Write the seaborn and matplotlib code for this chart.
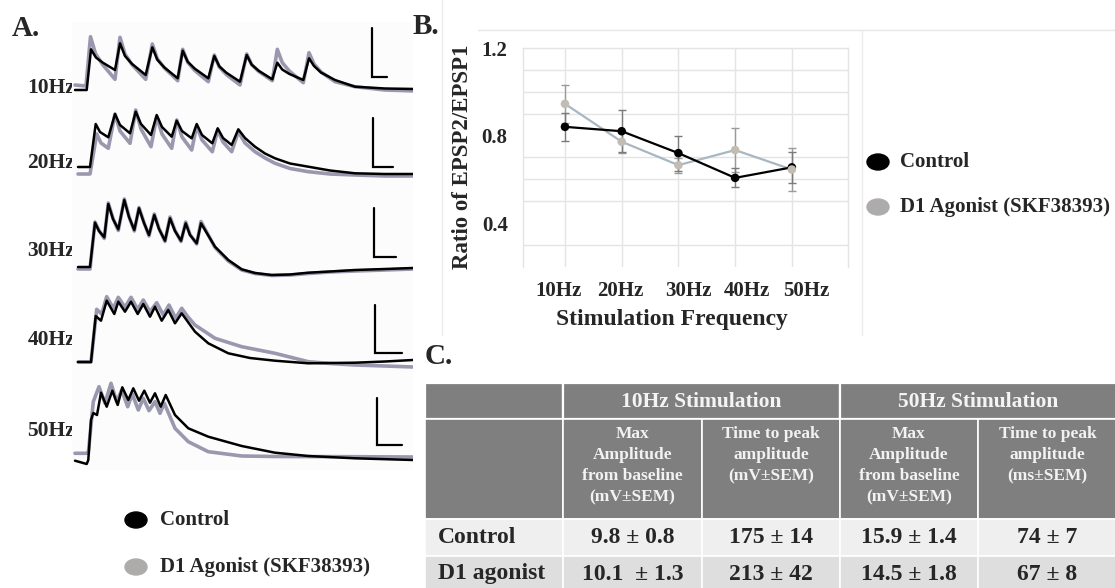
import numpy as np
import pandas as pd
import matplotlib
matplotlib.use("Agg")
import matplotlib.pyplot as plt
import seaborn as sns
from matplotlib.patches import Ellipse, Rectangle

# ------------------------------------------------------------------ DATA
frequencies = ["10Hz", "20Hz", "30Hz", "40Hz", "50Hz"]
group_names = ["Control", "D1 Agonist (SKF38393)"]

ratio_control = [0.84, 0.82, 0.72, 0.607, 0.655]
sem_control = [0.065, 0.095, 0.08, 0.043, 0.07]
ratio_d1 = [0.945, 0.772, 0.665, 0.734, 0.645]
sem_d1 = [0.088, 0.05, 0.035, 0.10, 0.10]

# Panel A traces: time (a.u.) and membrane potential relative to baseline (a.u.)
t10_ctrl = [0, 11.7, 16, 21, 28, 40, 45, 50, 57, 70.7, 77.3, 82.3, 89.3, 102.7, 107.7, 112.7, 119.7, 133.3,
            139.3, 144.3, 151.3, 165, 171.7, 176.7, 183.7, 197.3, 202.3, 207.3, 214.3, 228.3, 234, 239, 246,
            260, 280, 310, 340]
v10_ctrl = [0, 0, 40.7, 32.4, 27.2, 20, 46.7, 34, 26.1, 15, 42.7, 30.3, 22.6, 11.7, 39.3, 28.3, 21.4, 11.7,
            34, 23.7, 17.3, 8.3, 35, 25.3, 19.2, 10.7, 27.3, 20.4, 16.1, 10, 31.7, 24, 17.5, 10, 3.3, 1.5, 1]
t10_d1 = [0, 11, 15.5, 20.5, 27.5, 40, 45, 50, 57, 70.7, 77.3, 82.3, 89.3, 102.7, 107.7, 112.7, 119.7, 133.3,
          139.3, 144.3, 151.3, 165, 171.7, 176.7, 183.7, 197.3, 202.3, 207.3, 214.3, 228.3, 234, 239, 246,
          260, 280, 310, 340]
v10_d1 = [5, 4, 53.3, 36.3, 25.6, 10.7, 52.7, 35.9, 25.4, 10.7, 46, 31.3, 22.1, 9.3, 40.7, 27.7, 19.6, 8.3,
          35, 23, 15.5, 5, 36, 25.3, 18.6, 9.3, 40.7, 27.3, 19, 7.3, 37.3, 26, 18, 8.3, 3.3, 0, -1]

t20_ctrl = [3, 15, 20.7, 25, 33.3, 40, 45, 55, 60.7, 66, 76, 81.7, 87, 96.7, 101.7, 107, 116.7, 121.7, 127,
            137.3, 142.7, 148, 156.7, 163.3, 170, 180, 190, 200, 215, 233.3, 255, 280, 310, 338]
v20_ctrl = [0, 0, 43, 35, 29.7, 53, 42, 33.7, 55.3, 43, 32, 52, 40, 30.3, 46.3, 36, 28.7, 43, 32, 23.7,
            38.7, 29, 22, 37.7, 29, 20.3, 13.5, 8.7, 3.5, 0.3, -3.5, -6.3, -7, -7]
t20_d1 = [3, 15, 21.7, 26, 33.3, 40, 45, 55, 60.7, 66, 76, 81.7, 87, 96.7, 101.7, 107, 116.7, 121.7, 127,
          137.3, 142.7, 148, 156.7, 163.3, 170, 180, 190, 200, 215, 233.3, 255, 280, 310, 338]
v20_d1 = [-7, -7, 33, 24, 18.7, 53, 36, 23.7, 57, 38, 20.3, 50.3, 33, 18.7, 47, 30, 17, 41, 27, 15.3, 37,
          25, 15.3, 35.3, 24, 15.3, 9, 3.7, -1.5, -4.7, -7, -8, -9, -9]

t30_ctrl = [3, 15, 20, 24, 29.3, 33.3, 38, 43.3, 49.3, 54, 59.3, 64, 69, 74, 79.3, 84, 90, 95, 100, 106,
            110.7, 115, 121.7, 126, 133, 140, 153.3, 166.7, 180, 196.7, 215, 233.3, 255, 280, 310, 338]
v30_ctrl = [0, 0, 44.3, 36, 29.7, 63, 48, 37.7, 67, 50, 37, 58.7, 44, 32, 52, 38, 26.3, 48.7, 36, 26.3,
            43.7, 32, 23.7, 43.7, 32, 20.3, 7, -2.3, -6, -8, -7.5, -5.7, -4.5, -3, -2, -1]
t30_d1 = t30_ctrl
v30_d1 = [-2, -2, 45, 36.5, 28.5, 64, 48.5, 36.5, 68, 50.5, 36, 59.5, 44.5, 31, 53, 38.5, 25.5, 50, 36.5,
          25.5, 45, 32.5, 23, 45.5, 32.5, 19.5, 6, -3, -6.5, -8.5, -8, -6.5, -5, -4, -3, -2]

t40_ctrl = [3, 16, 20.7, 26, 31.7, 39.3, 43.3, 50, 56, 62.7, 68.3, 75, 80, 86.7, 93.3, 100, 106.7, 113, 120,
            133.3, 153.3, 175, 200, 233.3, 255, 280, 310, 338]
v40_ctrl = [0, 0, 46, 41.3, 61.3, 48, 60.3, 50.3, 60.3, 48, 58, 45.3, 55.3, 41.3, 52, 38.7, 48.7, 40, 30.3,
            18.7, 8.7, 4, 1.3, -1.3, -1, -0.7, 0.5, 2]
t40_d1 = [3, 16, 21.7, 26.7, 31.7, 38.3, 43.3, 50, 56, 62.7, 68.3, 75, 81.7, 88.3, 94, 100.7, 106.7, 113, 120,
          140, 166.7, 200, 233.3, 255, 280, 310, 338]
v40_d1 = [0, 0, 52.7, 48, 65.3, 53.7, 64.7, 54.7, 64.7, 52.7, 62, 50.3, 59.3, 47, 57, 43.7, 53.7, 45, 37,
          23.7, 15.3, 8.7, 0.3, -1.5, -3, -4, -5]

t50_ctrl = [0, 11.7, 13.3, 16, 18.3, 22, 26, 31.7, 37.3, 42.7, 47.3, 53.3, 58.3, 64, 69.3, 75, 80, 85.7,
            90.7, 100, 113.3, 133.3, 166.7, 200, 233.3, 280, 338]
v50_ctrl = [-0.7, -4, 0, 40, 47, 45, 67.3, 53.3, 69.3, 55, 72.7, 60, 71.7, 59.3, 69.3, 57.3, 66.7, 53.3,
            65, 45, 31.7, 23.3, 14, 7.3, 4, 1.7, 0]
t50_d1 = [0, 11.7, 13.3, 18.3, 24, 30, 36, 41.7, 46.7, 52.7, 57.3, 63.3, 68.3, 74, 80, 85, 89.3, 100,
          113.3, 133.3, 166.7, 200, 280, 338]
v50_d1 = [6.7, 6.7, 7, 58.3, 73.3, 56.7, 76.7, 58.3, 70, 53.3, 66, 50, 61.7, 49.3, 58.3, 46.7, 56.7, 31.7,
          18.3, 8.3, 4, 3.5, 3.3, 3]

scale_bar_v = [49, 49, 49, 48, 47]
scale_bar_t = [15, 20, 22, 27, 25]

# Panel C table
table_groups = ["10Hz Stimulation", "50Hz Stimulation"]
table_columns = ["Max\nAmplitude\nfrom baseline\n(mV±SEM)", "Time to peak\namplitude\n(mV±SEM)",
                 "Max\nAmplitude\nfrom baseline\n(mV±SEM)", "Time to peak\namplitude\n(ms±SEM)"]
table_rows = ["Control", "D1 agonist"]
table_values = [["9.8 ± 0.8", "175 ± 14", "15.9 ± 1.4", "74 ± 7"],
                ["10.1  ± 1.3", "213 ± 42", "14.5 ± 1.8", "67 ± 8"]]

# ------------------------------------------------------------------ STYLE
sns.set_style("white")
plt.rcParams["font.family"] = ["Liberation Serif", "DejaVu Serif"]
plt.rcParams["font.weight"] = "bold"

W, H = 1115, 588
fig = plt.figure(figsize=(W / 100, H / 100), dpi=100)


def px_axes(left, top, right, bottom):
    return fig.add_axes([left / W, 1 - bottom / H, (right - left) / W, (bottom - top) / H])


C_BLACK = "#000000"
C_GREY_TRACE = "#9a98ae"
C_D1_LINE = "#a8b7c2"
C_D1_MARK = "#c3bcb3"
C_LEG_GREY = "#aeabab"

# overlay in pixel coordinates
ov = fig.add_axes([0, 0, 1, 1])
ov.set_xlim(0, W)
ov.set_ylim(H, 0)
ov.axis("off")

# ------------------------------------------------------------------ PANEL A
axA = px_axes(72, 22, 413, 470)
axA.set_xlim(-3, 338)
axA.set_ylim(0, 448)
axA.set_facecolor("#fcfcfc")
for s in axA.spines.values():
    s.set_visible(False)
axA.set_xticks([])
axA.set_yticks([])

baseline_px = [90, 167, 267, 362, 460]
bar_bottom_px = [77, 167, 257, 353, 445]
bar_x_px = [372, 373, 374, 375, 377]
traces = [(t10_ctrl, v10_ctrl, t10_d1, v10_d1), (t20_ctrl, v20_ctrl, t20_d1, v20_d1),
          (t30_ctrl, v30_ctrl, t30_d1, v30_d1), (t40_ctrl, v40_ctrl, t40_d1, v40_d1),
          (t50_ctrl, v50_ctrl, t50_d1, v50_d1)]
label_y_px = [88, 163, 251, 340, 431]

for i, (tc, vc, td, vd) in enumerate(traces):
    base = 470 - baseline_px[i]
    sns.lineplot(x=np.array(td), y=base + np.array(vd), ax=axA, sort=False, estimator=None,
                 color=C_GREY_TRACE, lw=2.6, legend=False)
    sns.lineplot(x=np.array(tc), y=base + np.array(vc), ax=axA, sort=False, estimator=None,
                 color=C_BLACK, lw=1.8, legend=False)
    bx = bar_x_px[i] - 75
    by = 470 - bar_bottom_px[i]
    axA.plot([bx, bx, bx + scale_bar_t[i]], [by + scale_bar_v[i], by, by], color="black", lw=1.6,
             solid_joinstyle="miter")
    ov.text(75, label_y_px[i], frequencies[i], ha="right", va="center", fontsize=15.5, fontweight="bold")

# legend A
ov.add_patch(Ellipse((136, 520), 22, 16, color=C_BLACK))
ov.add_patch(Ellipse((136, 567), 22, 16, color=C_LEG_GREY))
ov.text(160, 520, group_names[0], ha="left", va="center", fontsize=15, fontweight="bold")
ov.text(160, 567, group_names[1], ha="left", va="center", fontsize=15, fontweight="bold")

# ------------------------------------------------------------------ PANEL B
axB = px_axes(523, 48, 848, 267)
xs = np.arange(len(frequencies))
df = pd.DataFrame({
    "x": np.concatenate([xs, xs]),
    "ratio": ratio_control + ratio_d1,
    "sem": sem_control + sem_d1,
    "group": [group_names[0]] * 5 + [group_names[1]] * 5,
})
axB.errorbar(xs, ratio_d1, yerr=sem_d1, fmt="none", ecolor="#9a9a9a", elinewidth=1.0, capsize=3,
             capthick=1.0, zorder=2)
axB.errorbar(xs, ratio_control, yerr=sem_control, fmt="none", ecolor="#7a7a7a", elinewidth=1.0, capsize=3,
             capthick=1.0, zorder=2)
sns.lineplot(data=df, x="x", y="ratio", hue="group", hue_order=[group_names[1], group_names[0]],
             palette={group_names[0]: C_BLACK, group_names[1]: C_D1_LINE}, lw=1.6, ax=axB,
             legend=False, zorder=3)
sns.scatterplot(data=df, x="x", y="ratio", hue="group", hue_order=[group_names[1], group_names[0]],
                palette={group_names[0]: C_BLACK, group_names[1]: C_D1_MARK}, s=38, edgecolor="none",
                ax=axB, legend=False, zorder=4)
axB.set_xlim(-0.74, 4.99)
axB.set_ylim(0.2, 1.2)
axB.set_yticks([0.4, 0.8, 1.2])
axB.set_yticklabels(["0.4", "0.8", "1.2"])
axB.set_yticks(np.arange(0.3, 1.21, 0.1), minor=True)
label_pos = [-0.12, 0.97, 2.17, 3.21, 4.26]
axB.set_xticks(label_pos)
axB.set_xticklabels(frequencies)
axB.set_xticks(xs, minor=True)
axB.grid(False)
axB.grid(which="minor", axis="both", color="#e4e4e4", lw=1.0)
axB.tick_params(which="both", length=0)
axB.tick_params(axis="y", pad=11, labelsize=15)
axB.tick_params(axis="x", pad=10, labelsize=15)
for lab in axB.get_xticklabels() + axB.get_yticklabels():
    lab.set_fontweight("bold")
axB.set_xlabel("")
axB.set_ylabel("")
axB.spines["bottom"].set_visible(False)
for side in ["left", "right", "top"]:
    axB.spines[side].set_color("#e4e4e4")
    axB.spines[side].set_linewidth(1.0)

ov.text(463, 157, "Ratio of EPSP2/EPSP1", rotation=90, ha="center", va="center", fontsize=16.5,
        fontweight="bold")
ov.text(672, 319, "Stimulation Frequency", ha="center", va="center", fontsize=17, fontweight="bold")

# chart frame lines
ov.plot([478, 1115], [30, 30], color="#e6e6e6", lw=1)
ov.plot([442, 442], [0, 335], color="#ececec", lw=1)
ov.plot([862, 862], [30, 335], color="#ececec", lw=1)

# legend B
ov.add_patch(Ellipse((878, 162), 22, 16, color=C_BLACK))
ov.add_patch(Ellipse((878, 207), 22, 16, color=C_LEG_GREY))
ov.text(900, 162, group_names[0], ha="left", va="center", fontsize=15, fontweight="bold")
ov.text(900, 207, group_names[1], ha="left", va="center", fontsize=15, fontweight="bold")

# ------------------------------------------------------------------ PANEL C (table)
col_edges = [425, 563, 702, 840, 978, 1117]
h1_top, h1_bot = 383, 419
h2_top, h2_bot = 419, 519
row_edges = [519, 556, 596]
HEAD = "#7f7f7f"
ROW_FILLS = ["#efefef", "#dedede"]

ov.add_patch(Rectangle((col_edges[0], h1_top), col_edges[1] - col_edges[0], h1_bot - h1_top,
                       facecolor=HEAD, edgecolor="white", lw=1.6))
for g in range(2):
    x0, x1 = col_edges[1 + 2 * g], col_edges[3 + 2 * g]
    ov.add_patch(Rectangle((x0, h1_top), x1 - x0, h1_bot - h1_top, facecolor=HEAD, edgecolor="white", lw=1.6))
    ov.text((x0 + x1) / 2, (h1_top + h1_bot) / 2 + 1, table_groups[g], ha="center", va="center",
            color="#f4f4f4", fontsize=15.5, fontweight="bold")
for c in range(5):
    x0, x1 = col_edges[c], col_edges[c + 1]
    ov.add_patch(Rectangle((x0, h2_top), x1 - x0, h2_bot - h2_top, facecolor=HEAD, edgecolor="white", lw=1.2))
    if c > 0:
        ov.text((x0 + x1) / 2, h2_top + 7, table_columns[c - 1], ha="center", va="top", color="#f2f2f2",
                fontsize=12.5, fontweight="bold", linespacing=1.42)
    for r in range(2):
        y0, y1 = row_edges[r], row_edges[r + 1]
        ov.add_patch(Rectangle((x0, y0), x1 - x0, y1 - y0, facecolor=ROW_FILLS[r], edgecolor="white", lw=1.2))
        if c == 0:
            ov.text(x0 + 13, (y0 + y1) / 2 + (0 if r == 0 else -2), table_rows[r], ha="left", va="center",
                    fontsize=17, fontweight="bold")
        else:
            ov.text((x0 + x1) / 2, (y0 + y1) / 2 + (0 if r == 0 else -2), table_values[r][c - 1],
                    ha="center", va="center", fontsize=17, fontweight="bold")

# panel letters
ov.text(12, 29, "A.", ha="left", va="center", fontsize=21, fontweight="bold")
ov.text(413, 26, "B.", ha="left", va="center", fontsize=21, fontweight="bold")
ov.text(425, 356, "C.", ha="left", va="center", fontsize=21, fontweight="bold")

fig.savefig("out.png", dpi=100)
